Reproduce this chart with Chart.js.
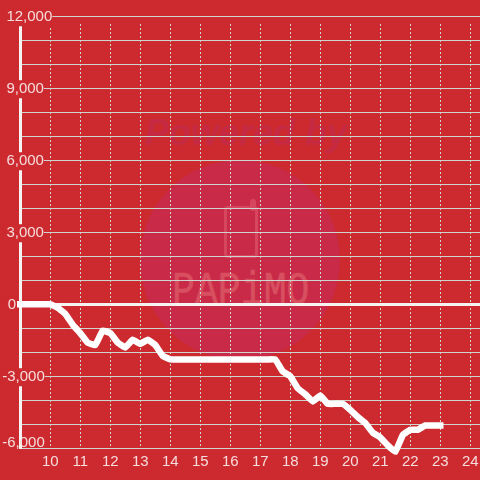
<!DOCTYPE html>
<html>
<head>
<meta charset="utf-8">
<script src="https://cdn.jsdelivr.net/npm/chart.js@4"></script>
<style>
html,body{margin:0;padding:0;background:#cc2a2e;width:480px;height:480px;overflow:hidden}
#wrap{position:relative;width:480px;height:480px}
#c{position:absolute;left:0;top:0}
.wm{position:absolute}
#circle{left:140px;top:160px;width:200px;height:200px;border-radius:50%;background:#c82a48}
#powered{left:145px;top:112px;width:195px;text-align:center;font:italic bold 36px "Liberation Sans";color:#c62a42;white-space:nowrap}
#phone{left:224px;top:206px;width:28px;height:46px;border:3px solid #d6475f;border-radius:4px}
#knob{left:250px;top:199px;width:6px;height:12px;background:#d6475f;border-radius:3px}
#papimo{left:172px;top:266px;width:136px;font:46px "Liberation Mono";color:#d84f60;-webkit-text-stroke:0.6px #d84f60;white-space:nowrap;transform-origin:0 0;transform:scaleX(.83)}
</style>
</head>
<body>
<div id="wrap">
<div class="wm" id="powered">Powered by</div>
<div class="wm" id="circle"></div>
<div class="wm" id="phone"></div>
<div class="wm" id="knob"></div>
<div class="wm" id="papimo">PAPiMO</div>
<canvas id="c" width="480" height="480"></canvas>
</div>
<script>
const hours = [9,10,10.25,10.5,10.75,11,11.25,11.5,11.75,12,12.25,12.5,12.75,13,13.25,13.5,13.75,14,14.25,14.5,14.75,15,15.25,15.5,15.75,16,16.25,16.5,16.75,17,17.25,17.5,17.75,18,18.25,18.5,18.75,19,19.25,19.5,19.75,20,20.25,20.5,20.75,21,21.25,21.5,21.75,22,22.25,22.5,22.75,23];
const values = [0,0,-150,-400,-850,-1200,-1600,-1700,-1100,-1200,-1600,-1800,-1480,-1650,-1480,-1700,-2150,-2300,-2300,-2300,-2300,-2300,-2300,-2300,-2300,-2300,-2300,-2300,-2300,-2300,-2300,-2300,-2800,-3000,-3500,-3750,-4050,-3800,-4150,-4150,-4150,-4400,-4700,-4950,-5350,-5550,-5880,-6150,-5450,-5230,-5230,-5050,-5050,-5050];
const xTicks = [10,11,12,13,14,15,16,17,18,19,20,21,22,23,24];
const yLabelled = [12000,9000,6000,3000,0,-3000,-6000];

const BG = '#cc2a2e', TXT = '#f6dcdc', GRID = '#cfd4cf', WHITE = '#f6f3f3';

new Chart(document.getElementById('c'), {
  type: 'line',
  data: { datasets: [{
    data: hours.map((h,i)=>({x:h,y:values[i]})),
    borderColor:'#ffffff', borderWidth:6.5, pointRadius:0, tension:0.08,
    borderCapStyle:'square', borderJoinStyle:'round', clip:false
  }]},
  options: {
    responsive:false, animation:false,
    layout:{padding:{top:16.25,left:2.25,right:0,bottom:0}},
    plugins:{legend:{display:false},tooltip:{enabled:false}},
    scales:{
      x:{
        type:'linear', min:9, max:24.325,
        afterFit(s){s.height=31.75;s.paddingLeft=0;s.paddingRight=0;},
        afterUpdate(s){
          if(!s._wrapped){
            const f=s._computeGridLineItems;
            s._computeGridLineItems=a=>f.call(s,{left:a.left,right:a.right,bottom:a.bottom,top:24});
            s._wrapped=true;
          }
        },
        afterBuildTicks(s){s.ticks=xTicks.map(v=>({value:v}));},
        border:{display:false,dash:[2,2]},
        grid:{color:GRID,lineWidth:1,drawTicks:false,tickLength:0},
        ticks:{autoSkip:false,maxRotation:0,minRotation:0,includeBounds:false,padding:5,color:TXT,
          font:{family:'"Liberation Sans"',size:15},callback:v=>String(v)}
      },
      y:{
        min:-6000,max:12000,
        afterBuildTicks(s){const t=s.ticks;if(t.length>1){const a=t[0];t[0]=t[1];t[1]=a;}},
        afterFit(s){s.width=18;s.paddingTop=0;s.paddingBottom=0;},
        border:{display:true,color:WHITE,width:3},
        grid:{
          color:c=>c.tick.value===0?WHITE:GRID,
          lineWidth:c=>c.tick.value===0?3:1,
          drawTicks:false,tickLength:0
        },
        ticks:{
          stepSize:1000,autoSkip:false,mirror:true,crossAlign:'near',color:TXT,padding:-18,labelOffset:1,
          font:c=>({family:'"Liberation Sans"',size:15,lineHeight:c.tick&&c.tick.value===-6000?'12px':'18px'}),
          showLabelBackdrop:c=>c.tick.value===-5000||(c.tick.value!==-6000&&yLabelled.includes(c.tick.value)),
          backdropColor:BG,
          backdropPadding:c=>c.tick.value===-5000
            ?({top:-20,bottom:16,left:0,right:44})
            :({top:-1,bottom:-1,left:0,right:2}),
          callback:v=>{
            if(!yLabelled.includes(v))return '';
            const s=v.toLocaleString('en-US');
            if(v===-6000)return [s,''];
            if(v===0)return ' \u200a'+s;
            return v<0?s:' '+s;
          }
        }
      }
    }
  }
});
</script>
</body>
</html>
